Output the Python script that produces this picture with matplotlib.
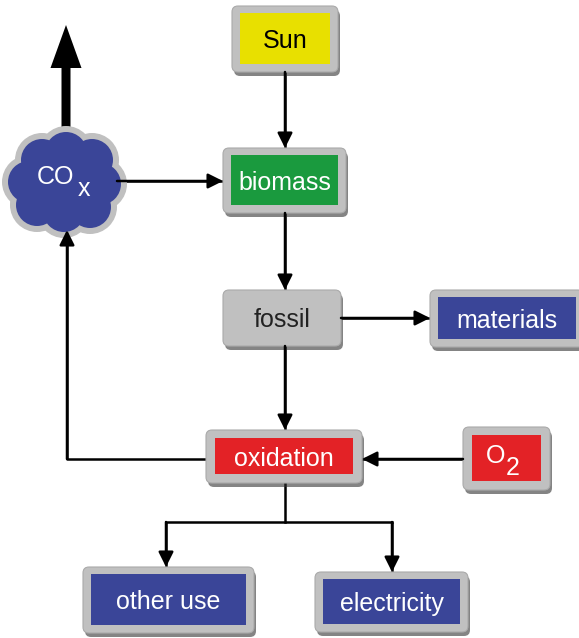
import matplotlib.pyplot as plt
from matplotlib.patches import FancyBboxPatch, Circle, FancyArrow
import matplotlib as mpl

mpl.rcParams['font.family'] = 'Liberation Sans'

# nodes of the flow diagram
labels = ['Sun', 'biomass', 'fossil', 'materials', 'oxidation', '', 'other use', 'electricity']
fills = ['#e8e000', '#1a9a3e', '#c8c8c8', '#3a4598', '#e32226', '#e32226', '#3a4598', '#3a4598']
text_col = ['black', 'white', '#222222', 'white', 'white', 'white', 'white', 'white']
# outer box (x0, y0, x1, y1) in pixels, and inner padding
boxes = [(232, 6, 338, 72), (223, 148, 346, 213), (223, 290, 341, 346),
         (430, 290, 584, 347), (206, 430, 362, 483), (463, 427, 550, 490),
         (83, 567, 254, 633), (315, 572, 468, 632)]
pads = [8, 8, 0, 8, 9, 9, 8, 8]

gray = '#c0c0c0'
blue = '#3a4598'

fig = plt.figure(figsize=(5.79, 6.38), dpi=100)
ax = fig.add_axes([0, 0, 1, 1])
ax.set_xlim(0, 579)
ax.set_ylim(638, 0)
ax.axis('off')

def draw_box(x0, y0, x1, y1, pad, fill):
    w, h = x1 - x0, y1 - y0
    ax.add_patch(FancyBboxPatch((x0 + 2, y0 + 4), w, h, boxstyle='round,pad=0,rounding_size=6',
                                fc='#333333', ec='none', alpha=0.6, zorder=2))
    ax.add_patch(FancyBboxPatch((x0, y0), w, h, boxstyle='round,pad=0,rounding_size=6',
                                fc=gray, ec='#aaaaaa', lw=0.8, zorder=3))
    if pad > 0:
        ax.add_patch(plt.Rectangle((x0 + pad, y0 + pad - 1), w - 2 * pad, h - 2 * pad + 1,
                                   fc=fill, ec='none', zorder=4))

for lab, fc, tc, b, p in zip(labels, fills, text_col, boxes, pads):
    draw_box(*b, p, fc)
    cx = (b[0] + b[2]) / 2
    if lab == 'materials':
        cx = 507
    ax.text(cx, (b[1] + b[3]) / 2 + 2, lab, ha='center', va='center', fontsize=18, color=tc, zorder=5)

# O2 label with subscript
ax.text(496, 456, 'O', ha='center', va='center', fontsize=18, color='white', zorder=5)
ax.text(513, 468, '2', ha='center', va='center', fontsize=18, color='white', zorder=5)

# cloud for CO_x
lobes = [(42, 160), (66, 153), (92, 160), (100, 184), (90, 207), (64, 211), (37, 205), (29, 182)]
for r, c, z in [(27, gray, 3), (21, blue, 4)]:
    for (x, y) in lobes:
        ax.add_patch(Circle((x, y), r, fc=c, ec='none', zorder=z))
    ax.add_patch(Circle((65, 182), r + 8, fc=c, ec='none', zorder=z))
ax.text(55, 177, 'CO', ha='center', va='center', fontsize=18, color='white', zorder=5)
ax.text(84, 189, 'x', ha='center', va='center', fontsize=18, color='white', zorder=5)

# thick upward arrow
ax.add_patch(FancyArrow(66, 135, 0, -110, width=9, head_width=31, head_length=43,
                        length_includes_head=True, fc='black', ec='none', zorder=1))

def arrow(pts):
    xs = [p[0] for p in pts]
    ys = [p[1] for p in pts]
    ax.plot(xs, ys, color='black', lw=1.8, zorder=1, solid_capstyle='butt')
    ax.annotate('', xy=pts[-1], xytext=pts[-2],
                arrowprops=dict(arrowstyle='-|>,head_length=0.9,head_width=0.45', color='black',
                                lw=1.8, shrinkA=0, shrinkB=0), zorder=6)

arrow([(285, 72), (285, 148)])
arrow([(117, 181), (223, 181)])
arrow([(285, 213), (285, 290)])
arrow([(341, 318), (430, 318)])
arrow([(285, 346), (285, 430)])
arrow([(463, 459), (362, 459)])
arrow([(206, 459), (67, 459), (67, 230)])
ax.plot([285, 285], [483, 522], color='black', lw=1.8, zorder=1)
ax.plot([166, 392], [522, 522], color='black', lw=1.8, zorder=1, solid_capstyle='projecting')
arrow([(166, 522), (166, 567)])
arrow([(392, 522), (392, 572)])

fig.savefig('out.png', dpi=100)
